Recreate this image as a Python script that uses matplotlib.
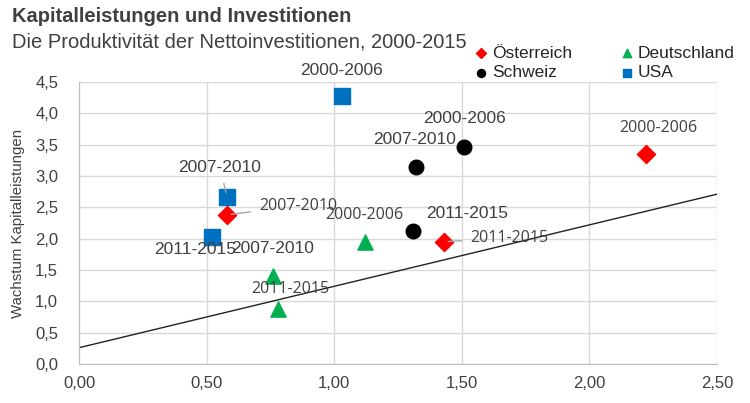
import matplotlib.pyplot as plt

# Data (x: Nettoinvestitionen, y: Wachstum Kapitalleistungen)
periods = ["2000-2006", "2007-2010", "2011-2015"]

at_x = [2.22, 0.58, 1.43]
at_y = [3.35, 2.38, 1.95]

de_x = [1.12, 0.76, 0.78]
de_y = [1.95, 1.40, 0.88]

ch_x = [1.51, 1.32, 1.31]
ch_y = [3.47, 3.14, 2.12]

us_x = [1.03, 0.58, 0.52]
us_y = [4.27, 2.67, 2.03]

trend_x = [0.0, 2.5]
trend_y = [0.26, 2.71]

x_ticks = [0.0, 0.5, 1.0, 1.5, 2.0, 2.5]
y_ticks = [0.0, 0.5, 1.0, 1.5, 2.0, 2.5, 3.0, 3.5, 4.0, 4.5]

plt.rcParams["font.family"] = ["Liberation Sans", "DejaVu Sans"]

fig = plt.figure(figsize=(7.5, 4.03), dpi=100)
ax = fig.add_axes([79 / 750, 39 / 403, 638 / 750, 282 / 403])

ax.set_xlim(0, 2.5)
ax.set_ylim(0, 4.5)
ax.set_xticks(x_ticks)
ax.set_yticks(y_ticks)
ax.set_xticklabels([f"{v:.2f}".replace(".", ",") for v in x_ticks])
ax.set_yticklabels([f"{v:.1f}".replace(".", ",") for v in y_ticks])
ax.tick_params(length=0, labelsize=12, colors="#404040")
ax.tick_params(axis="x", pad=9)
ax.tick_params(axis="y", pad=15)
ax.grid(True, color="#d9d9d9", linewidth=1)
ax.set_axisbelow(True)
for side in ["top", "right"]:
    ax.spines[side].set_visible(False)
ax.spines["left"].set_color("#bfbfbf")
ax.spines["bottom"].set_color("#bfbfbf")
ax.set_ylabel("Wachstum Kapitalleistungen", fontsize=10.8, color="#404040")
ax.yaxis.set_label_coords(-0.084, 0.5)

# trend line
ax.plot(trend_x, trend_y, color="#222222", linewidth=1, zorder=2)

ax.scatter(at_x, at_y, marker="D", s=85, color="#ff0000", zorder=3, label="Österreich")
ax.scatter(ch_x, ch_y, marker="o", s=110, color="#000000", zorder=3, label="Schweiz")
ax.scatter(de_x, de_y, marker="^", s=120, color="#00b050", zorder=3, label="Deutschland")
ax.scatter(us_x, us_y, marker="s", s=120, color="#0070c0", zorder=3, label="USA")

# label styles: Arial-like large, Calibri-like small
big = dict(fontsize=12.5, color="#404040", ha="center", va="center")
small = dict(fontsize=11.5, color="#404040", ha="center", va="center",
             family=["Open Sans", "DejaVu Sans"])

# label offsets in pixels (dx right, dy up) from each marker
at_offsets = [(13, 26), (71, 9), (65, 4)]
at_styles = [small, small, small]
at_leader = [False, True, True]

de_offsets = [(-1, 27), (0, 28), (12, 20)]
de_styles = [small, big, small]

ch_offsets = [(0, 28), (-1, 28), (54, 18)]
ch_styles = [big, big, big]

us_offsets = [(0, 26), (-7, 29), (-17, -13)]
us_styles = [big, big, big]
us_leader = [False, True, False]


def label_series(xs, ys, offsets, styles, leaders=None):
    for i, (x, y) in enumerate(zip(xs, ys)):
        arrow = None
        if leaders is not None and leaders[i]:
            arrow = dict(arrowstyle="-", color="#a6a6a6", linewidth=1,
                         shrinkA=4, shrinkB=3)
        ax.annotate(periods[i], (x, y), xytext=offsets[i], textcoords="offset pixels",
                    arrowprops=arrow, zorder=4, **styles[i])


label_series(at_x, at_y, at_offsets, at_styles, at_leader)
label_series(de_x, de_y, de_offsets, de_styles)
label_series(ch_x, ch_y, ch_offsets, ch_styles)
label_series(us_x, us_y, us_offsets, us_styles, us_leader)

leg = fig.legend(loc="upper left", bbox_to_anchor=(457 / 750, 1 - 30 / 403), ncol=2,
                 frameon=False, fontsize=12.5, handletextpad=0.1, columnspacing=2.7,
                 labelspacing=0.25, handlelength=1.0, markerscale=0.55)
for t in leg.get_texts():
    t.set_color("#262626")

fig.text(12 / 750, 1 - 17 / 403, "Kapitalleistungen und Investitionen", fontsize=14.5,
         fontweight="bold", color="#404040", va="center")
fig.text(12 / 750, 1 - 42 / 403, "Die Produktivität der Nettoinvestitionen, 2000-2015",
         fontsize=14.5, color="#404040", va="center")

fig.savefig("out.png", dpi=100)
